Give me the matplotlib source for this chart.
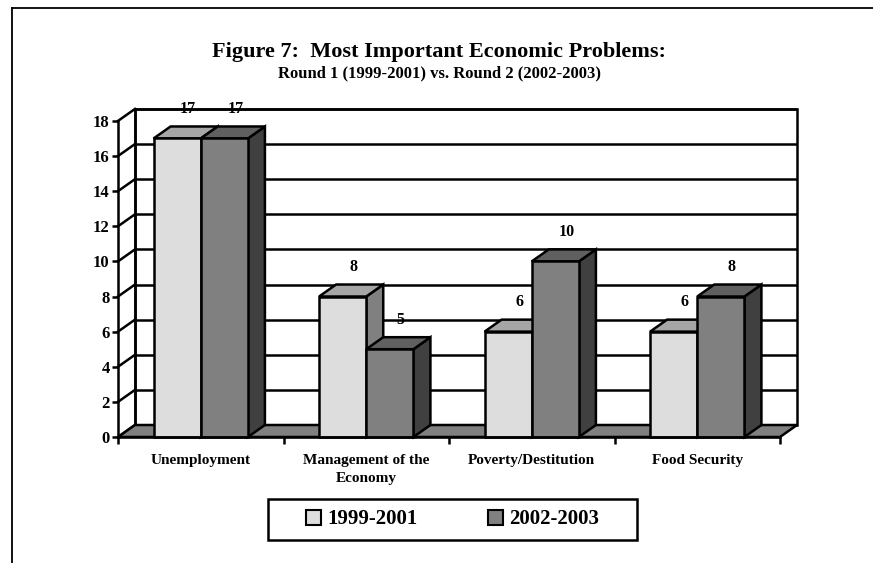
import matplotlib
matplotlib.use('Agg')
import matplotlib.pyplot as plt
from matplotlib.patches import Rectangle, Polygon, Patch
from matplotlib.lines import Line2D

# ---------------- data ----------------
categories = ["Unemployment", "Management of the\nEconomy", "Poverty/Destitution", "Food Security"]
series_names = ["1999-2001", "2002-2003"]
round1 = [17, 8, 6, 6]
round2 = [17, 5, 10, 8]
yticks = [0, 2, 4, 6, 8, 10, 12, 14, 16, 18]
title = "Figure 7:  Most Important Economic Problems:"
subtitle = "Round 1 (1999-2001) vs. Round 2 (2002-2003)"

# ---------------- style ----------------
plt.rcParams['font.family'] = ['Liberation Serif', 'DejaVu Serif']
plt.rcParams['font.weight'] = 'bold'

W, H = 873, 563
fig = plt.figure(figsize=(W / 100, H / 100), dpi=100)
fig.patch.set_facecolor('white')

# pixel geometry of the pseudo-3D frame
XS = 165.5          # px per category
YS = 17.56          # px per value unit
DXP, DYP = 17, 12   # depth offset in px
DX = DXP / XS
DY = DYP / YS
NCAT = len(categories)
YMAX = yticks[-1]

left_px, base_px = 118, 437
ax = fig.add_axes([left_px / W, (H - base_px) / H,
                   (NCAT * XS + DXP) / W, (YMAX * YS + DYP) / H])
ax.set_xlim(0, NCAT + DX)
ax.set_ylim(0, YMAX + DY)
ax.set_facecolor('none')

LW = 1.8
EC = 'black'

# back wall
ax.add_patch(Rectangle((DX, DY), NCAT, YMAX, facecolor='white', edgecolor=EC,
                       lw=LW, zorder=1, clip_on=False))
# gridlines on the back wall and on the left wall
for v in yticks:
    ax.plot([DX, NCAT + DX], [v + DY, v + DY], color=EC, lw=LW, zorder=2,
            solid_capstyle='butt', clip_on=False)
    ax.plot([0, DX], [v, v + DY], color=EC, lw=LW, zorder=2, clip_on=False)
ax.plot([DX, DX], [DY, YMAX + DY], color=EC, lw=LW, zorder=2, clip_on=False)

# floor
ax.add_patch(Polygon([(0, 0), (NCAT, 0), (NCAT + DX, DY), (DX, DY)],
                     closed=True, facecolor='#808080', edgecolor=EC, lw=LW,
                     zorder=3, joinstyle='miter', clip_on=False))

# bars
BW = 0.285
colors = [dict(front='#DDDDDD', top='#A6A6A6', side='#808080'),
          dict(front='#808080', top='#606060', side='#404040')]
z = 4
for i in range(NCAT):
    for s, vals in enumerate([round1, round2]):
        h = vals[i]
        x0 = i + 0.5 - BW + s * BW
        x1 = x0 + BW
        c = colors[s]
        ax.add_patch(Polygon([(x1, 0), (x1 + DX, DY), (x1 + DX, h + DY), (x1, h)],
                             closed=True, facecolor=c['side'], edgecolor=EC,
                             lw=LW, zorder=z, joinstyle='miter', clip_on=False))
        ax.add_patch(Polygon([(x0, h), (x1, h), (x1 + DX, h + DY), (x0 + DX, h + DY)],
                             closed=True, facecolor=c['top'], edgecolor=EC,
                             lw=LW, zorder=z, joinstyle='miter', clip_on=False))
        ax.bar(x0, h, width=BW, align='edge', color=c['front'], edgecolor=EC,
               lw=LW, zorder=z + 0.5, clip_on=False)
        ax.text(x0 + BW / 2 + 0.066, h + 1.68, f"{h}", ha='center', va='center',
                fontsize=11.5, fontweight='bold', zorder=10)
        z += 1

# axes / spines
for sp in ['top', 'right']:
    ax.spines[sp].set_visible(False)
ax.spines['left'].set_bounds(0, YMAX)
ax.spines['bottom'].set_bounds(0, NCAT)
for sp in ['left', 'bottom']:
    ax.spines[sp].set_linewidth(LW)
    ax.spines[sp].set_zorder(20)

ax.set_yticks(yticks)
ax.set_yticklabels([str(v) for v in yticks], fontsize=12, fontweight='bold')
ax.tick_params(axis='y', direction='out', length=4, width=LW, pad=2)

ax.set_xticks(range(NCAT + 1))
ax.set_xticklabels([])
ax.set_xticks([i + 0.5 for i in range(NCAT)], minor=True)
ax.set_xticklabels(categories, minor=True, fontsize=11, fontweight='bold',
                   linespacing=1.55)
ax.tick_params(axis='x', which='major', direction='out', length=5, width=LW)
ax.tick_params(axis='x', which='minor', length=0, pad=12)

# titles
fig.text(439 / W, 1 - 52 / H, title, ha='center', va='center', fontsize=16,
         fontweight='bold')
fig.text(439 / W, 1 - 73 / H, subtitle, ha='center', va='center', fontsize=12,
         fontweight='bold')

# legend
handles = [Patch(facecolor=colors[s]['front'], edgecolor=EC, lw=1.5)
           for s in range(2)]
fig.legend(handles, series_names, loc='center',
           bbox_to_anchor=(452.5 / W, 1 - 519.5 / H), ncol=2, frameon=False,
           prop=dict(family=['Liberation Serif'], weight='bold', size=15),
           handlelength=0.72, handleheight=0.72, handletextpad=0.3,
           columnspacing=3.4, borderpad=0.2)
fig.patches.append(Rectangle((268 / W, 1 - 540 / H), 369 / W, 41 / H,
                             transform=fig.transFigure, facecolor='none',
                             edgecolor=EC, lw=1.8))

# outer frame
fig.lines.append(Line2D([12 / W, 1], [1 - 8 / H, 1 - 8 / H],
                        transform=fig.transFigure, color=EC, lw=1.3))
fig.lines.append(Line2D([12 / W, 12 / W], [1 - 8 / H, 0],
                        transform=fig.transFigure, color=EC, lw=1.3))

fig.savefig('out.png', dpi=100, facecolor='white')
